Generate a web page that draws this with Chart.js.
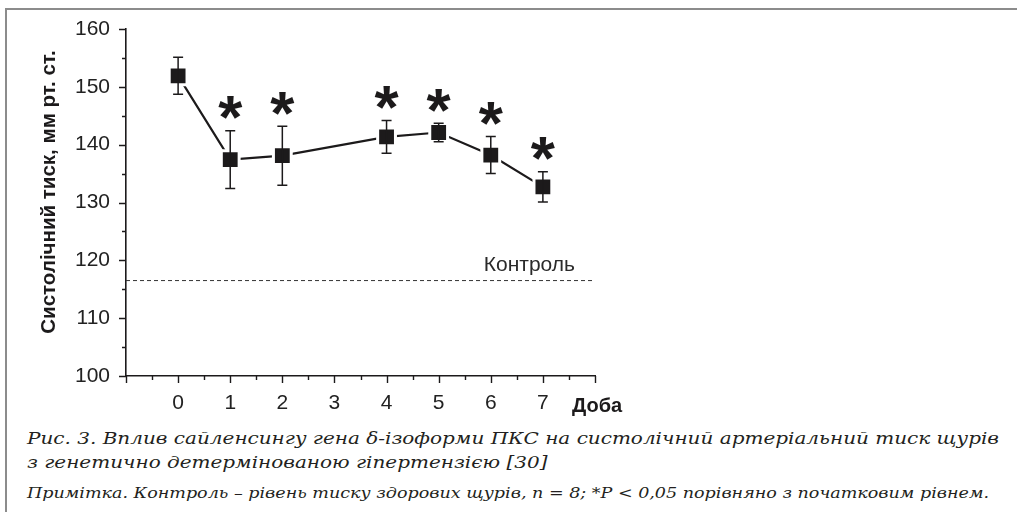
<!DOCTYPE html>
<html><head><meta charset="utf-8">
<script src="https://cdn.jsdelivr.net/npm/chart.js@4"></script>
<style>
html,body{margin:0;padding:0;background:#fff;}
#wrap{position:relative;width:1017px;height:512px;overflow:hidden;background:#fff;}
#frameTop{position:absolute;left:5px;top:8px;width:1012px;height:0;border-top:2px solid #8c8c8c;}
#frameLeft{position:absolute;left:5px;top:8px;width:0;height:504px;border-left:2px solid #8c8c8c;}
#chartBox{position:absolute;left:0;top:0;width:1017px;height:420px;}
.cap{position:absolute;left:27px;white-space:nowrap;font-family:"DejaVu Serif";font-style:italic;color:#231f20;line-height:1;transform-origin:0 50%;}
</style></head>
<body>
<div id="wrap">
  <div id="frameTop"></div>
  <div id="frameLeft"></div>
  <div id="chartBox"><canvas id="c" width="1017" height="420"></canvas></div>
  <div class="cap" id="cap1" style="top:430px;font-size:17.5px;">Рис. 3. Вплив сайленсингу гена δ-ізоформи ПКС на систолічний артеріальний тиск щурів</div>
  <div class="cap" id="cap2" style="top:454px;font-size:17.5px;">з генетично детермінованою гіпертензією [30]</div>
  <div class="cap" id="cap3" style="top:486px;font-size:15px;">Примітка. Контроль – рівень тиску здорових щурів, n = 8; *P &lt; 0,05 порівняно з початковим рівнем.</div>
</div>
<script>
// ---- data ----
const days = [0, 1, 2, 4, 5, 6, 7];
const pressure = [151.9, 137.4, 138.1, 141.35, 142.1, 138.2, 132.7];
const sem = [3.2, 5.0, 5.1, 2.85, 1.6, 3.2, 2.6];
const significant = [false, true, true, true, true, true, true];
const controlLevel = 116.5;
const controlLabel = 'Контроль';
const xTickLabels = ['0', '1', '2', '3', '4', '5', '6', '7'];
const yTickLabels = [100, 110, 120, 130, 140, 150, 160];
const yTitle = 'Систолічний тиск, мм рт. ст.';
const xTitle = 'Доба';

const INK = '#1c1a1b';

const extras = {
  id: 'extras',
  afterDatasetsDraw(chart) {
    const ctx = chart.ctx, a = chart.chartArea;
    const xs = chart.scales.x, ys = chart.scales.y;
    ctx.save();
    // error bars
    ctx.strokeStyle = INK; ctx.lineWidth = 1.5;
    days.forEach((d, i) => {
      const x = xs.getPixelForValue(d);
      const yt = ys.getPixelForValue(pressure[i] + sem[i]);
      const yb = ys.getPixelForValue(pressure[i] - sem[i]);
      ctx.beginPath();
      ctx.moveTo(x, yt); ctx.lineTo(x, yb);
      ctx.moveTo(x - 5, yt); ctx.lineTo(x + 5, yt);
      ctx.moveTo(x - 5, yb); ctx.lineTo(x + 5, yb);
      ctx.stroke();
    });
    // asterisks
    ctx.fillStyle = INK;
    ctx.font = 'bold 62px "Liberation Sans"';
    ctx.textAlign = 'center'; ctx.textBaseline = 'alphabetic';
    const m = ctx.measureText('*');
    days.forEach((d, i) => {
      if (!significant[i]) return;
      const x = xs.getPixelForValue(d);
      const yt = ys.getPixelForValue(pressure[i] + sem[i]);
      const cy = yt - 23;
      ctx.fillText('*', x, cy + m.actualBoundingBoxAscent - (m.actualBoundingBoxAscent + m.actualBoundingBoxDescent) / 2);
    });
    // control label
    ctx.font = '21px "Liberation Sans"';
    ctx.textAlign = 'right'; ctx.textBaseline = 'alphabetic';
    ctx.fillStyle = '#2a2a2a';
    ctx.fillText(controlLabel, a.right - 20, ys.getPixelForValue(controlLevel) - 10);
    ctx.restore();
  },
  afterDraw(chart) {
    const ctx = chart.ctx, a = chart.chartArea;
    const xs = chart.scales.x, ys = chart.scales.y;
    ctx.save();
    ctx.strokeStyle = INK; ctx.lineWidth = 1.4;
    ctx.beginPath();
    for (let v = ys.min; v <= ys.max; v += 5) {
      const y = Math.round(ys.getPixelForValue(v)) + 0.5;
      const len = (v % 10 === 0) ? 7 : 4;
      ctx.moveTo(a.left - len, y); ctx.lineTo(a.left, y);
    }
    for (let v = xs.min; v <= xs.max; v += 0.5) {
      const x = Math.round(xs.getPixelForValue(v)) + 0.5;
      const len = Number.isInteger(v) ? 7 : 4;
      ctx.moveTo(x, a.bottom); ctx.lineTo(x, a.bottom + len);
    }
    ctx.stroke();
    // y title
    ctx.fillStyle = INK;
    ctx.font = 'bold 20.5px "Liberation Sans"';
    ctx.textAlign = 'center'; ctx.textBaseline = 'middle';
    ctx.translate(49, 192);
    ctx.rotate(-Math.PI / 2);
    ctx.fillText(yTitle, 0, 0);
    ctx.setTransform(1, 0, 0, 1, 0, 0);
    // x title
    ctx.font = 'bold 20px "Liberation Sans"';
    ctx.textAlign = 'left'; ctx.textBaseline = 'middle';
    ctx.fillText(xTitle, a.right - 23, a.bottom + 30);
    ctx.restore();
  }
};

new Chart(document.getElementById('c'), {
  type: 'line',
  data: {
    datasets: [
      {
        data: days.map((d, i) => ({ x: d, y: pressure[i] })),
        borderColor: INK, borderWidth: 2.2,
        pointStyle: 'rect', pointRadius: 12.6,
        pointBackgroundColor: INK, pointBorderColor: '#ffffff', pointBorderWidth: 3,
        tension: 0, order: 1
      },
      {
        data: [{ x: -1, y: controlLevel }, { x: 8, y: controlLevel }],
        borderColor: '#333', borderWidth: 1, borderDash: [4, 3],
        pointRadius: 0, order: 2
      }
    ]
  },
  options: {
    responsive: false, animation: false,
    layout: { padding: { left: 0, right: 422, top: 29, bottom: 0 } },
    plugins: { legend: { display: false }, tooltip: { enabled: false } },
    scales: {
      x: {
        type: 'linear', min: -1, max: 8,
        ticks: {
          stepSize: 1, autoSkip: false, maxRotation: 0, padding: 7,
          color: '#222', font: { family: 'Liberation Sans', size: 21 },
          callback: (v) => (v >= 0 && v < xTickLabels.length) ? xTickLabels[v] : ''
        },
        grid: { display: false },
        border: { display: true, color: INK, width: 1.6 },
        afterFit: (s) => { s.height = 44; }
      },
      y: {
        min: 100, max: 160,
        ticks: {
          stepSize: 10, padding: 8,
          color: '#222', font: { family: 'Liberation Sans', size: 21 },
          callback: (v) => yTickLabels.includes(v) ? String(v) : ''
        },
        grid: { display: false },
        border: { display: true, color: INK, width: 1.6 },
        afterFit: (s) => { s.width = 126; }
      }
    }
  },
  plugins: [extras]
});

// fit caption widths by horizontal scaling
function fit(el, target, ls) {
  el.style.letterSpacing = ls + 'px';
  const w = el.getBoundingClientRect().width;
  const k = target / w;
  el.style.transform = 'scaleX(' + k + ')';
  return k;
}
const k1 = fit(document.getElementById('cap1'), 972, 0);
const c2 = document.getElementById('cap2');
c2.style.letterSpacing = '0px';
c2.style.transform = 'scaleX(' + k1 + ')';
fit(document.getElementById('cap3'), 962, 0);
</script>
</body></html>
